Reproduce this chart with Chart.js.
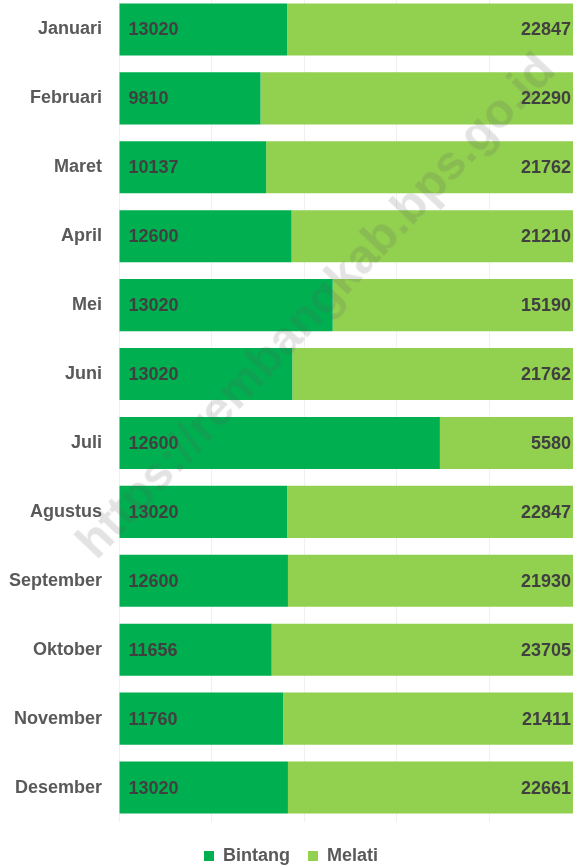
<!DOCTYPE html>
<html>
<head>
<meta charset="utf-8">
<script src="https://cdn.jsdelivr.net/npm/chart.js@4/dist/chart.umd.min.js"></script>
<style>
  html, body { margin: 0; padding: 0; background: #fff; }
  #wrap { position: relative; width: 573px; height: 865px; overflow: hidden; }
  #chart { position: absolute; left: 0; top: -5px; }
  #watermark {
    position: absolute; left: 315px; top: 305px;
    transform: translate(-50%, -50%) rotate(-46.7deg);
    font: bold 48px "Liberation Sans", Arial, sans-serif;
    color: rgba(90, 90, 90, 0.17); white-space: nowrap; pointer-events: none;
  }
</style>
</head>
<body>
<div id="wrap">
  <canvas id="chart" width="582" height="890"></canvas>
  <div id="watermark">https://rembangkab.bps.go.id</div>
</div>
<script>
let months = ["Januari", "Februari", "Maret", "April", "Mei", "Juni", "Juli",
  "Agustus", "September", "Oktober", "November", "Desember"];
let bintang = [13020, 9810, 10137, 12600, 13020, 13020, 12600, 13020, 12600, 11656, 11760, 13020];
let melati = [22847, 22290, 21762, 21210, 15190, 21762, 5580, 22847, 21930, 23705, 21411, 22661];

// convert to percent of row total (100% stacked)
let totals = months.map((m, i) => bintang[i] + melati[i]);
let bintangPct = bintang.map((v, i) => v / totals[i] * 100);
let melatiPct = melati.map((v, i) => v / totals[i] * 100);

let font = "'Liberation Sans', Arial, sans-serif";

// draw the raw values on the bars
let valueLabels = {
  id: "valueLabels",
  afterDatasetsDraw(chart) {
    let ctx = chart.ctx;
    ctx.save();
    ctx.font = "bold 18px " + font;
    ctx.fillStyle = "#404040";
    ctx.textBaseline = "middle";
    chart.getDatasetMeta(0).data.forEach((bar, i) => {
      ctx.textAlign = "left";
      ctx.fillText(bintang[i], bar.base + 9, bar.y + 1);
    });
    chart.getDatasetMeta(1).data.forEach((bar, i) => {
      ctx.textAlign = "right";
      ctx.fillText(melati[i], bar.x - 11, bar.y + 1);
    });
    ctx.restore();
  }
};

new Chart(document.getElementById("chart"), {
  type: "bar",
  data: {
    labels: months,
    datasets: [
      { label: "Bintang", data: bintangPct, backgroundColor: "#00B050" },
      { label: "Melati", data: melatiPct, backgroundColor: "#92D050" }
    ]
  },
  options: {
    indexAxis: "y",
    responsive: false,
    animation: false,
    categoryPercentage: 0.756,
    barPercentage: 1,
    layout: { padding: { top: 0, right: 0, bottom: 10, left: 0 } },
    scales: {
      x: {
        stacked: true, min: 0, max: 100,
        afterFit(scale) { scale.height = 7; },
        ticks: { display: false, stepSize: 20 },
        grid: { color: "#f0f0f0", drawTicks: false },
        border: { display: false }
      },
      y: {
        stacked: true,
        afterFit(scale) {
          scale.width = 119;
          scale.paddingTop = 0;
          scale.paddingBottom = 0;
        },
        ticks: {
          color: "#595959", padding: 9,
          font: { family: font, size: 18, weight: "bold" }
        },
        grid: { display: false },
        border: { display: false }
      }
    },
    plugins: {
      legend: {
        position: "bottom",
        labels: {
          boxWidth: 10, boxHeight: 10, padding: 18,
          color: "#595959",
          font: { family: font, size: 18, weight: "bold" }
        }
      },
      tooltip: { enabled: false }
    }
  },
  plugins: [valueLabels]
});
</script>
</body>
</html>
